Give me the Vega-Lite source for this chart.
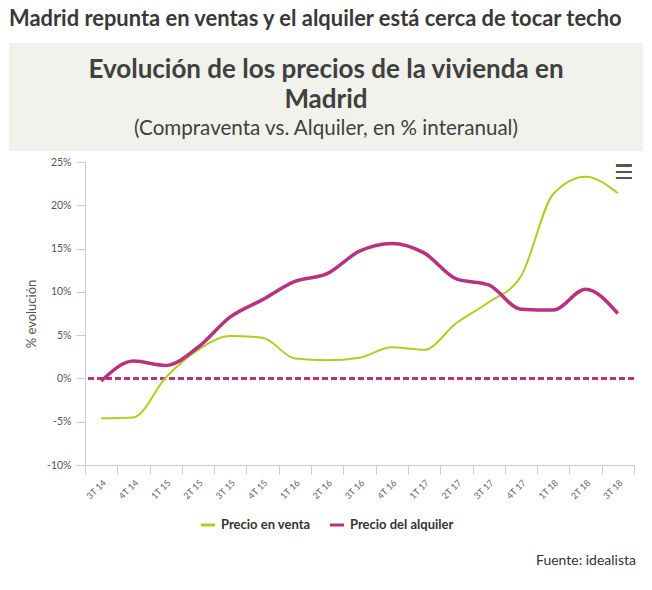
{
  "$schema": "https://vega.github.io/schema/vega-lite/v6.json",
  "background": "white",
  "padding": {"left": 9, "top": 8, "right": 9, "bottom": 5},
  "title": {"text": "Fuente: idealista", "orient": "bottom", "anchor": "end", "frame": "bounds", "fontSize": 14, "fontWeight": "normal", "color": "#333333", "offset": 22, "dx": -7},
  "datasets": {
    "header": [
      {"t": "Evolución de los precios de la vivienda en", "k": "title", "r": 1},
      {"t": "Madrid", "k": "title", "r": 2},
      {"t": "(Compraventa vs. Alquiler, en % interanual)", "k": "sub", "r": 3}
    ],
    "series": [
      {"q": "3T 14", "serie": "Precio en venta", "v": -4.6},
      {"q": "4T 14", "serie": "Precio en venta", "v": -4.5},
      {"q": "1T 15", "serie": "Precio en venta", "v": 0.1},
      {"q": "2T 15", "serie": "Precio en venta", "v": 3.3},
      {"q": "3T 15", "serie": "Precio en venta", "v": 4.9},
      {"q": "4T 15", "serie": "Precio en venta", "v": 4.7},
      {"q": "1T 16", "serie": "Precio en venta", "v": 2.3},
      {"q": "2T 16", "serie": "Precio en venta", "v": 2.1},
      {"q": "3T 16", "serie": "Precio en venta", "v": 2.4},
      {"q": "4T 16", "serie": "Precio en venta", "v": 3.6},
      {"q": "1T 17", "serie": "Precio en venta", "v": 3.3},
      {"q": "2T 17", "serie": "Precio en venta", "v": 6.4},
      {"q": "3T 17", "serie": "Precio en venta", "v": 8.8},
      {"q": "4T 17", "serie": "Precio en venta", "v": 11.8},
      {"q": "1T 18", "serie": "Precio en venta", "v": 21.3},
      {"q": "2T 18", "serie": "Precio en venta", "v": 23.3},
      {"q": "3T 18", "serie": "Precio en venta", "v": 21.4},
      {"q": "3T 14", "serie": "Precio del alquiler", "v": -0.3},
      {"q": "4T 14", "serie": "Precio del alquiler", "v": 2.0},
      {"q": "1T 15", "serie": "Precio del alquiler", "v": 1.5},
      {"q": "2T 15", "serie": "Precio del alquiler", "v": 3.6},
      {"q": "3T 15", "serie": "Precio del alquiler", "v": 7.1},
      {"q": "4T 15", "serie": "Precio del alquiler", "v": 9.1},
      {"q": "1T 16", "serie": "Precio del alquiler", "v": 11.2},
      {"q": "2T 16", "serie": "Precio del alquiler", "v": 12.1},
      {"q": "3T 16", "serie": "Precio del alquiler", "v": 14.7},
      {"q": "4T 16", "serie": "Precio del alquiler", "v": 15.6},
      {"q": "1T 17", "serie": "Precio del alquiler", "v": 14.5},
      {"q": "2T 17", "serie": "Precio del alquiler", "v": 11.5},
      {"q": "3T 17", "serie": "Precio del alquiler", "v": 10.8},
      {"q": "4T 17", "serie": "Precio del alquiler", "v": 8.0},
      {"q": "1T 18", "serie": "Precio del alquiler", "v": 7.9},
      {"q": "2T 18", "serie": "Precio del alquiler", "v": 10.3},
      {"q": "3T 18", "serie": "Precio del alquiler", "v": 7.5}
    ]
  },
  "vconcat": [
    {
      "width": 634,
      "height": 108,
      "title": {"text": "Madrid repunta en ventas y el alquiler está cerca de tocar techo", "anchor": "start", "frame": "group", "fontSize": 21.9, "fontWeight": "bold", "color": "#383838", "offset": 12},
      "view": {"fill": "#f2f2ec", "stroke": null},
      "data": {"name": "header"},
      "layer": [
        {
          "transform": [{"filter": "datum.k == 'title'"}],
          "mark": {"type": "text", "fontSize": 26, "fontWeight": "bold", "color": "#404040", "baseline": "middle"},
          "encoding": {
            "y": {"field": "r", "type": "ordinal", "axis": null, "scale": {"type": "point", "domain": [1, 2, 3], "padding": 0.83, "align": 0.56}},
            "text": {"field": "t"}
          }
        },
        {
          "transform": [{"filter": "datum.k == 'sub'"}],
          "mark": {"type": "text", "fontSize": 20.6, "fontWeight": "normal", "color": "#404040", "baseline": "middle"},
          "encoding": {
            "y": {"field": "r", "type": "ordinal", "axis": null, "scale": {"type": "point", "domain": [1, 2, 3], "padding": 0.83, "align": 0.56}},
            "text": {"field": "t"}
          }
        }
      ]
    },
    {
      "spacing": 0,
      "hconcat": [
        {
          "width": 16,
          "height": 303,
          "view": {"stroke": null},
          "data": {"values": [{}]},
          "mark": {"type": "text", "text": ""}
        },
        {
          "width": 549,
          "height": 303,
          "view": {"stroke": null},
          "data": {"name": "series"},
          "encoding": {
            "x": {
              "field": "q", "type": "ordinal", "sort": null, "bandPosition": 0.5,
              "scale": {"type": "band", "paddingInner": 0, "paddingOuter": 0,
                "domain": ["3T 14", "4T 14", "1T 15", "2T 15", "3T 15", "4T 15", "1T 16", "2T 16", "3T 16", "4T 16", "1T 17", "2T 17", "3T 17", "4T 17", "1T 18", "2T 18", "3T 18"]},
              "axis": {"title": null, "labelAngle": -45, "labelFontSize": 9, "labelPadding": 4, "tickSize": 9, "tickBand": "extent", "labelColor": "#5f6670"}
            },
            "y": {
              "field": "v", "type": "quantitative",
              "scale": {"domain": [-10, 25], "nice": false, "zero": false},
              "axis": {"values": [-10, -5, 0, 5, 10, 15, 20, 25], "labelExpr": "datum.value + '%'", "title": "% evolución", "titleFontSize": 13, "titlePadding": 8, "labelFontSize": 10.5, "labelPadding": 5, "tickSize": 9}
            }
          },
          "layer": [
            {
              "mark": {"type": "rule", "color": "#b83280", "strokeWidth": 2, "strokeDash": [6, 3]},
              "encoding": {"x": null, "y": {"datum": 0, "type": "quantitative"}}
            },
            {
              "transform": [{"filter": "datum.serie == 'Precio en venta'"}],
              "mark": {"type": "line", "interpolate": "monotone", "strokeWidth": 2},
              "encoding": {
                "color": {"field": "serie", "type": "nominal", "scale": {"domain": ["Precio en venta", "Precio del alquiler"], "range": ["#b5cc1c", "#b83280"]}}
              }
            },
            {
              "transform": [{"filter": "datum.serie == 'Precio del alquiler'"}],
              "mark": {"type": "line", "interpolate": "monotone", "strokeWidth": 3.5},
              "encoding": {
                "color": {"field": "serie", "type": "nominal", "scale": {"domain": ["Precio en venta", "Precio del alquiler"], "range": ["#b5cc1c", "#b83280"]}}
              }
            },
            {
              "mark": {"type": "text", "text": "☰", "font": "DejaVu Sans", "fontSize": 20, "fontWeight": "bold", "color": "#555555", "align": "center", "baseline": "middle", "dx": 6},
              "encoding": {"x": {"datum": "3T 18", "type": "ordinal"}, "y": {"datum": 23.7, "type": "quantitative"}}
            }
          ]
        }
      ]
    }
  ],
  "spacing": 6,
  "config": {
    "font": "Lato",
    "axis": {"domainColor": "#cccccc", "tickColor": "#cccccc", "labelColor": "#555555", "titleColor": "#555555", "titleFontWeight": "normal", "grid": false},
    "legend": {
      "orient": "bottom", "direction": "horizontal", "title": null,
      "labelFontSize": 13, "labelFontWeight": "bold", "labelColor": "#333333",
      "symbolType": "stroke", "symbolStrokeWidth": 3, "symbolSize": 200,
      "columnPadding": 12, "offset": 15,
      "layout": {"bottom": {"anchor": "middle"}}
    }
  }
}
